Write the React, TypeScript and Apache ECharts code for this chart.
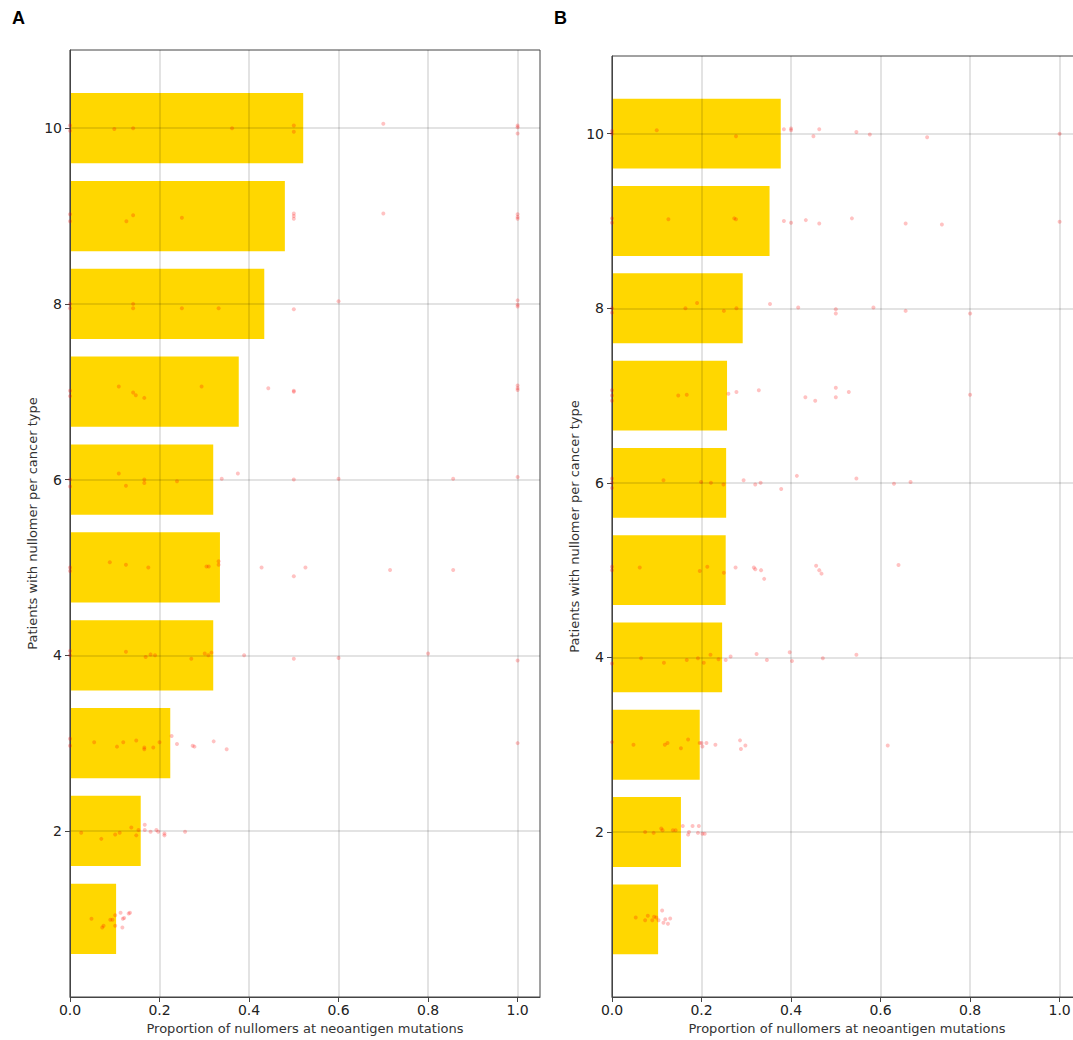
import React, { useEffect, useRef } from "react";
import * as echarts from "echarts";

// Rows (patients with nullomer per cancer type)
const rows = [1, 2, 3, 4, 5, 6, 7, 8, 9, 10];
// Bar values (proportion) per row, panel A and B
const barsA = [0.103, 0.158, 0.224, 0.32, 0.335, 0.32, 0.377, 0.434, 0.48, 0.521];
const barsB = [0.103, 0.154, 0.196, 0.246, 0.254, 0.255, 0.257, 0.292, 0.352, 0.377];

const xTicks = [0, 0.2, 0.4, 0.6, 0.8, 1.0];
const yTicks = [2, 4, 6, 8, 10];

// Jittered points [proportion, row + jitter], panel A
const ptsA10 = [[0,10.03],[0,9.97],[0.099,9.99],[0.141,10.0],[0.362,10.0],[0.5,10.03],[0.5,9.96],[0.7,10.05],[1.0,10.03],[1.0,10.01],[1.0,9.94]];
const ptsA9 = [[0,9.02],[0,8.94],[0.126,8.94],[0.141,9.01],[0.25,8.98],[0.5,9.03],[0.5,9.0],[0.5,8.97],[0.7,9.03],[1.0,9.02],[1.0,8.99],[1.0,8.97]];
const ptsA8 = [[0,7.95],[0,8.0],[0.141,8.0],[0.141,7.95],[0.25,7.95],[0.332,7.95],[0.5,7.94],[0.6,8.03],[1.0,8.04],[1.0,7.99],[1.0,7.97]];
const ptsA7 = [[0,7.01],[0,6.95],[0.109,7.06],[0.141,6.99],[0.147,6.96],[0.166,6.93],[0.294,7.06],[0.443,7.04],[0.5,7.01],[0.5,7.0],[1.0,7.07],[1.0,7.04],[1.0,7.02]];
const ptsA6 = [[0,6.0],[0,5.92],[0.109,6.07],[0.125,5.93],[0.166,6.0],[0.166,5.96],[0.239,5.98],[0.339,6.01],[0.375,6.07],[0.5,6.0],[0.6,6.01],[0.856,6.01],[1.0,6.03]];
const ptsA5 = [[0,5.0],[0,4.96],[0.089,5.06],[0.125,5.03],[0.175,5.0],[0.305,5.01],[0.31,5.01],[0.332,5.07],[0.332,5.03],[0.428,5.0],[0.5,4.9],[0.526,5.0],[0.715,4.97],[0.856,4.97]];
const ptsA4 = [[0,4.05],[0,4.0],[0.125,4.04],[0.169,3.98],[0.18,4.01],[0.19,4.0],[0.271,3.96],[0.301,4.02],[0.309,4.0],[0.316,4.03],[0.389,4.0],[0.5,3.96],[0.6,3.97],[0.8,4.02],[1.0,3.94]];
const ptsA3 = [[0,3.05],[0,2.97],[0.054,3.01],[0.105,2.96],[0.119,3.01],[0.148,3.03],[0.166,2.95],[0.166,2.93],[0.186,2.95],[0.2,3.01],[0.227,3.08],[0.239,2.99],[0.274,2.97],[0.278,2.96],[0.321,3.02],[0.35,2.93],[1.0,3.0]];
const ptsA2 = [[0.025,1.98],[0.07,1.91],[0.101,1.96],[0.111,1.98],[0.137,2.04],[0.148,1.95],[0.153,2.01],[0.167,2.07],[0.167,2.01],[0.18,1.99],[0.193,2.01],[0.197,1.99],[0.211,1.97],[0.211,1.95],[0.257,1.99]];
const ptsA1 = [[0.048,1.0],[0.072,0.9],[0.075,0.92],[0.09,0.99],[0.095,0.99],[0.101,1.04],[0.101,0.92],[0.113,1.07],[0.117,0.9],[0.118,1.0],[0.121,1.01],[0.131,1.06],[0.134,1.07]];

// Jittered points, panel B
const ptsB10 = [[0,10.03],[0,10.0],[0.1,10.04],[0.277,9.97],[0.384,10.05],[0.4,10.06],[0.4,10.04],[0.45,9.97],[0.463,10.05],[0.546,10.02],[0.576,9.99],[0.704,9.96],[1.0,10.0]];
const ptsB9 = [[0,9.03],[0,8.98],[0.126,9.02],[0.273,9.03],[0.277,9.02],[0.384,9.0],[0.4,8.98],[0.433,9.01],[0.463,8.97],[0.536,9.03],[0.656,8.97],[0.737,8.96],[1.0,8.99]];
const ptsB8 = [[0,8.0],[0,7.95],[0.164,8.0],[0.19,8.06],[0.25,7.97],[0.278,8.0],[0.353,8.05],[0.416,8.01],[0.5,7.99],[0.5,7.94],[0.584,8.01],[0.656,7.97],[0.8,7.94]];
const ptsB7 = [[0,7.06],[0,7.0],[0,6.94],[0.148,7.0],[0.167,7.01],[0.26,7.02],[0.278,7.04],[0.328,7.06],[0.432,6.98],[0.454,6.94],[0.5,7.09],[0.5,6.98],[0.529,7.04],[0.8,7.01]];
const ptsB6 = [[0,6.05],[0,6.0],[0,5.94],[0.115,6.03],[0.199,6.01],[0.221,6.0],[0.249,5.98],[0.294,6.03],[0.32,5.98],[0.332,6.0],[0.378,5.93],[0.413,6.08],[0.546,6.05],[0.63,5.99],[0.667,6.01]];
const ptsB5 = [[0,5.04],[0,5.0],[0.062,5.03],[0.196,4.99],[0.213,5.04],[0.25,4.97],[0.276,5.03],[0.317,5.03],[0.32,5.01],[0.333,5.0],[0.34,4.9],[0.456,5.05],[0.463,5.0],[0.468,4.96],[0.64,5.06]];
const ptsB4 = [[0,3.93],[0.065,3.99],[0.116,3.94],[0.167,3.97],[0.192,3.99],[0.205,3.94],[0.22,4.03],[0.238,3.98],[0.254,3.97],[0.265,4.01],[0.323,4.04],[0.346,3.97],[0.397,4.06],[0.402,3.96],[0.471,3.99],[0.546,4.03]];
const ptsB3 = [[0,3.03],[0.048,3.0],[0.118,3.0],[0.124,3.02],[0.154,2.96],[0.17,3.06],[0.196,3.02],[0.2,3.02],[0.202,2.98],[0.211,3.02],[0.231,3.0],[0.286,3.05],[0.288,2.95],[0.298,2.99],[0.616,2.99]];
const ptsB2 = [[0.074,2.0],[0.093,1.99],[0.11,2.04],[0.113,2.02],[0.136,2.02],[0.142,2.02],[0.158,2.07],[0.17,1.97],[0.172,2.0],[0.18,2.07],[0.192,1.99],[0.194,2.07],[0.202,1.98],[0.207,1.98]];
const ptsB1 = [[0.053,1.02],[0.074,0.99],[0.08,1.04],[0.09,0.99],[0.094,1.03],[0.099,1.02],[0.104,0.99],[0.112,1.1],[0.115,0.96],[0.119,1.0],[0.125,0.95],[0.13,1.01]];

const xTitle = "Proportion of nullomers at neoantigen mutations";
const yTitle = "Patients with nullomer per cancer type";

const BAR_COLOR = "#FFD700";
const FONT = "DejaVu Sans";

function buildAxes(gi: number) {
  const x = {
    type: "value",
    gridIndex: gi,
    min: 0,
    max: 1.05,
    z: 3,
    name: xTitle,
    nameLocation: "middle",
    nameGap: 24,
    nameTextStyle: { fontFamily: FONT, fontSize: 13, color: "#333" },
    axisLine: { show: true, lineStyle: { color: "#444", width: 1 } },
    axisTick: { show: true, length: 5, customValues: xTicks, lineStyle: { color: "#444" } },
    axisLabel: {
      customValues: xTicks,
      margin: 6,
      fontFamily: FONT,
      fontSize: 14,
      color: "#222",
      formatter: (v: number) => v.toFixed(1),
    },
    splitLine: { show: true, lineStyle: { color: "rgba(0,0,0,0.15)", width: 1.5 } },
  };
  const y = {
    type: "value",
    gridIndex: gi,
    min: 0.11,
    max: 10.89,
    z: 3,
    name: yTitle,
    nameLocation: "middle",
    nameGap: 31,
    nameRotate: 90,
    nameTextStyle: { fontFamily: FONT, fontSize: 13, color: "#333" },
    axisLine: { show: true, lineStyle: { color: "#444", width: 1 } },
    axisTick: { show: true, length: 5, customValues: yTicks, lineStyle: { color: "#444" } },
    axisLabel: {
      customValues: yTicks,
      margin: 8,
      fontFamily: FONT,
      fontSize: 14,
      color: "#222",
    },
    splitLine: { show: true, lineStyle: { color: "rgba(0,0,0,0.15)", width: 1.5 } },
  };
  return { x, y };
}

function barSeries(gi: number, bars: number[]) {
  return {
    type: "custom",
    xAxisIndex: gi,
    yAxisIndex: gi,
    z: 2,
    encode: { x: 0, y: 1 },
    data: rows.map((r, i) => [bars[i], r]),
    renderItem: (params: any, api: any) => {
      const v = api.value(0);
      const r = api.value(1);
      const p0 = api.coord([0, r + 0.4]);
      const p1 = api.coord([v, r - 0.4]);
      return {
        type: "rect",
        shape: { x: p0[0], y: p0[1], width: p1[0] - p0[0], height: p1[1] - p0[1] },
        style: { fill: BAR_COLOR },
      };
    },
  };
}

function pointSeries(gi: number, pts: number[][]) {
  return {
    type: "scatter",
    xAxisIndex: gi,
    yAxisIndex: gi,
    z: 4,
    symbol: "circle",
    symbolSize: 4,
    itemStyle: { color: "rgba(255,0,0,0.3)" },
    data: pts,
  };
}

export default function App() {
  const ref = useRef<HTMLDivElement>(null);
  useEffect(() => {
    if (!ref.current) return;
    const chart = echarts.init(ref.current, null, { renderer: "svg" });
    const a = buildAxes(0);
    const b = buildAxes(1);
    const allA = [...ptsA1, ...ptsA2, ...ptsA3, ...ptsA4, ...ptsA5, ...ptsA6, ...ptsA7, ...ptsA8, ...ptsA9, ...ptsA10];
    const allB = [...ptsB1, ...ptsB2, ...ptsB3, ...ptsB4, ...ptsB5, ...ptsB6, ...ptsB7, ...ptsB8, ...ptsB9, ...ptsB10];
    chart.setOption({
      animation: false,
      backgroundColor: "#fff",
      title: [
        { text: "A", left: 12, top: 9, padding: 0, textStyle: { fontFamily: "Liberation Sans", fontSize: 18, fontWeight: "bold", color: "#000" } },
        { text: "B", left: 554, top: 9, padding: 0, textStyle: { fontFamily: "Liberation Sans", fontSize: 18, fontWeight: "bold", color: "#000" } },
      ],
      grid: [
        { left: 70, top: 50, width: 470, height: 947, show: true, borderColor: "#444", borderWidth: 1, backgroundColor: "transparent" },
        { left: 612, top: 56, width: 470, height: 941, show: true, borderColor: "#444", borderWidth: 1, backgroundColor: "transparent" },
      ],
      xAxis: [a.x, b.x],
      yAxis: [a.y, b.y],
      series: [barSeries(0, barsA), barSeries(1, barsB), pointSeries(0, allA), pointSeries(1, allB)],
    });
    return () => chart.dispose();
  }, []);
  return (
    <div
      ref={ref}
      style={{ position: "fixed", left: 0, top: 0, width: 1100, height: 1040, background: "#fff" }}
    />
  );
}
